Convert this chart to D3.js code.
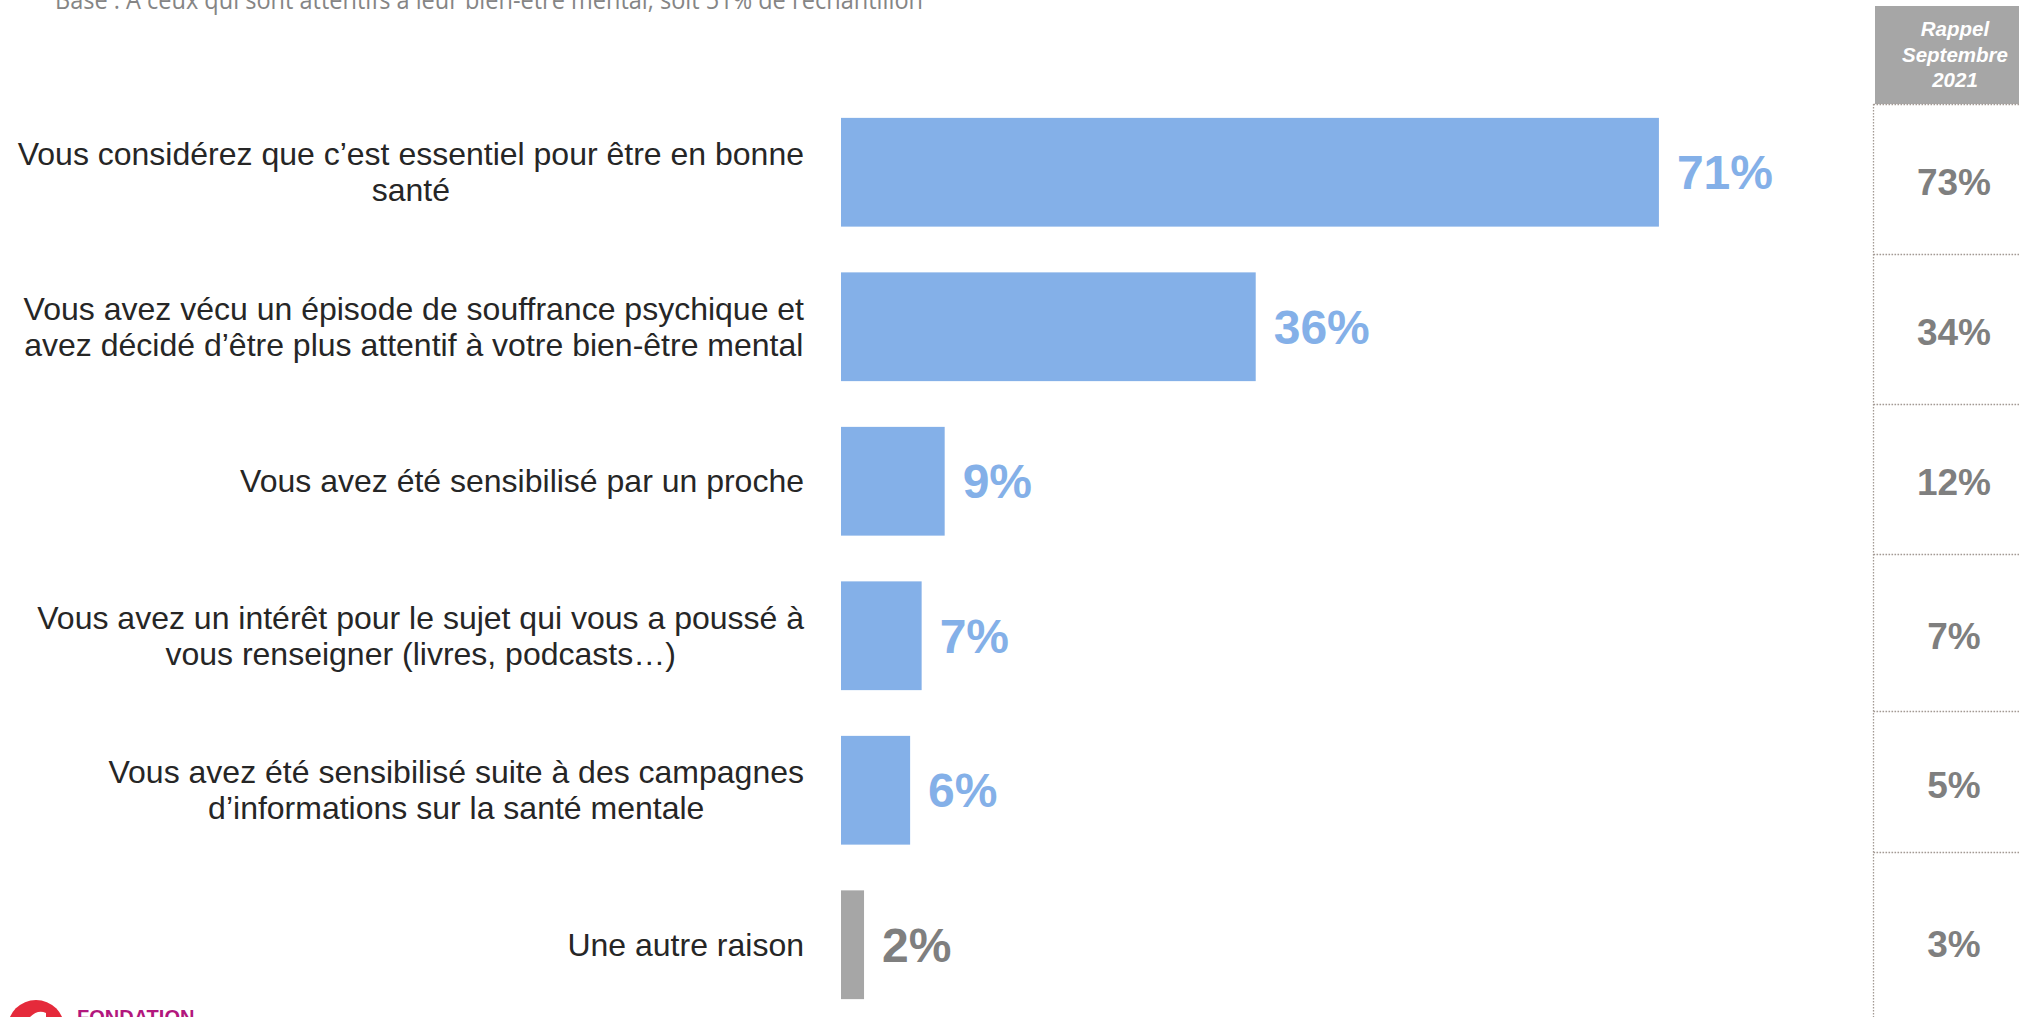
<!DOCTYPE html>
<html lang="fr">
<head>
<meta charset="utf-8">
<title>Raisons d'attention au bien-être mental</title>
<script src="https://cdn.jsdelivr.net/npm/d3@7"></script>
<style>
  html, body { margin: 0; padding: 0; background: #ffffff; overflow: hidden; }
  svg { display: block; }
</style>
</head>
<body>
<svg id="chart" width="2019" height="1017"></svg>
<script>
// Reasons given (each line of a label is separated by "\n")
const categories = [
  "Vous considérez que c’est essentiel pour être en bonne\nsanté",
  "Vous avez vécu un épisode de souffrance psychique et\navez décidé d’être plus attentif à votre bien-être mental",
  "Vous avez été sensibilisé par un proche",
  "Vous avez un intérêt pour le sujet qui vous a poussé à\nvous renseigner (livres, podcasts…)",
  "Vous avez été sensibilisé suite à des campagnes\nd’informations sur la santé mentale",
  "Une autre raison"
];
// Current wave (%)
const currentValues = [71, 36, 9, 7, 6, 2];
// Reminder column: September 2021 (%)
const sept2021Values = [73, 34, 12, 7, 5, 3];
const reminderHeader = ["Rappel", "Septembre", "2021"];
const baseNote = "Base : A ceux qui sont attentifs à leur bien-être mental, soit 51% de l’échantillon";
const otherCategory = "Une autre raison";

const W = 2019, H = 1017;
const svg = d3.select("#chart");

const BLUE = "#84b0e8";
const GREY_BAR = "#a6a6a6";
const GREY_TEXT = "#7f7f7f";
const DOT = "#a39a94";

// Scales
const x = d3.scaleLinear().domain([0, 100]).range([841, 841 + 1152]);
const y = d3.scaleBand()
  .domain(categories)
  .range([95, 1022])
  .paddingInner(0.296)
  .paddingOuter(0.148);

const rows = categories.map((c, i) => ({ cat: c, value: currentValues[i], prev: sept2021Values[i] }));
const isOther = d => d.cat === otherCategory;

// Base note at the top (partly cut by the frame)
svg.append("text")
  .attr("x", 55).attr("y", 9)
  .attr("font-family", "'Open Sans', 'Liberation Sans', sans-serif")
  .attr("font-size", 25)
  .attr("fill", "#858585")
  .attr("textLength", 868)
  .attr("lengthAdjust", "spacingAndGlyphs")
  .text(baseNote);

// Bars
svg.append("g").selectAll("rect")
  .data(rows)
  .join("rect")
  .attr("x", x(0))
  .attr("y", d => y(d.cat))
  .attr("width", d => x(d.value) - x(0))
  .attr("height", y.bandwidth())
  .attr("fill", d => isOther(d) ? GREY_BAR : BLUE);

// Value labels
svg.append("g").selectAll("text")
  .data(rows)
  .join("text")
  .attr("x", d => x(d.value) + 18)
  .attr("y", d => y(d.cat) + y.bandwidth() / 2 + 17)
  .attr("font-family", "'Liberation Sans', Arial, sans-serif")
  .attr("font-weight", "bold")
  .attr("font-size", 48)
  .attr("fill", d => isOther(d) ? GREY_TEXT : BLUE)
  .text(d => d.value + "%");

// Category labels: block right-aligned, lines centred within the block
const labelRight = 804;
const lineH = 36;
const labelG = svg.append("g")
  .attr("font-family", "'Liberation Sans', Arial, sans-serif")
  .attr("font-size", 32)
  .attr("fill", "#262626");

rows.forEach(d => {
  const lines = d.cat.split("\n");
  const t = labelG.append("text").attr("text-anchor", "middle");
  const cy = y(d.cat) + y.bandwidth() / 2;
  const top = cy - (lines.length - 1) * lineH / 2 + 11;
  const spans = lines.map((ln, k) =>
    t.append("tspan").attr("y", top + k * lineH).text(ln));
  const widest = d3.max(spans, s => s.node().getComputedTextLength());
  spans.forEach(s => s.attr("x", labelRight - widest / 2));
});

// Reminder column (September 2021)
const colLeft = 1873.5;
const colCenter = 1954;
const headerBottom = 104;
const cellRules = [254, 404, 554, 711, 852];
const cellEdges = [headerBottom, ...cellRules, 1030];

svg.append("rect")
  .attr("x", 1875).attr("y", 6)
  .attr("width", 170).attr("height", headerBottom - 6)
  .attr("fill", GREY_BAR);

svg.append("g").selectAll("text")
  .data(reminderHeader)
  .join("text")
  .attr("x", colCenter + 1)
  .attr("y", (d, i) => 36 + i * 25.5)
  .attr("text-anchor", "middle")
  .attr("font-family", "'Liberation Sans', Arial, sans-serif")
  .attr("font-weight", "bold")
  .attr("font-style", "italic")
  .attr("font-size", 20.5)
  .attr("fill", "#ffffff")
  .text(d => d);

const rules = svg.append("g")
  .attr("stroke", DOT)
  .attr("stroke-width", 1.3)
  .attr("stroke-dasharray", "1.6 1.4");
rules.append("line")
  .attr("x1", colLeft).attr("x2", colLeft)
  .attr("y1", headerBottom).attr("y2", H);
rules.selectAll("line.h")
  .data([headerBottom, ...cellRules])
  .join("line")
  .attr("class", "h")
  .attr("x1", colLeft).attr("x2", W)
  .attr("y1", d => d + 0.5).attr("y2", d => d + 0.5);

svg.append("g").selectAll("text")
  .data(rows)
  .join("text")
  .attr("x", colCenter)
  .attr("y", (d, i) => (cellEdges[i] + cellEdges[i + 1]) / 2 + 16)
  .attr("text-anchor", "middle")
  .attr("font-family", "'Liberation Sans', Arial, sans-serif")
  .attr("font-weight", "bold")
  .attr("font-size", 37)
  .attr("fill", GREY_TEXT)
  .text(d => d.prev + "%");

// Foundation mark, bottom left
const logo = svg.append("g");
logo.append("circle")
  .attr("cx", 36).attr("cy", 1028.5).attr("r", 28.5)
  .attr("fill", "#e52a3b");
logo.append("path")
  .attr("d", "M 30 1017 Q 38 1009 46 1013 L 46 1017 Z")
  .attr("fill", "#ffffff");
logo.append("text")
  .attr("x", 77).attr("y", 1024)
  .attr("font-family", "'Liberation Sans', Arial, sans-serif")
  .attr("font-weight", "bold")
  .attr("font-size", 20)
  .attr("fill", "#b2177d")
  .text("FONDATION");
</script>
</body>
</html>
